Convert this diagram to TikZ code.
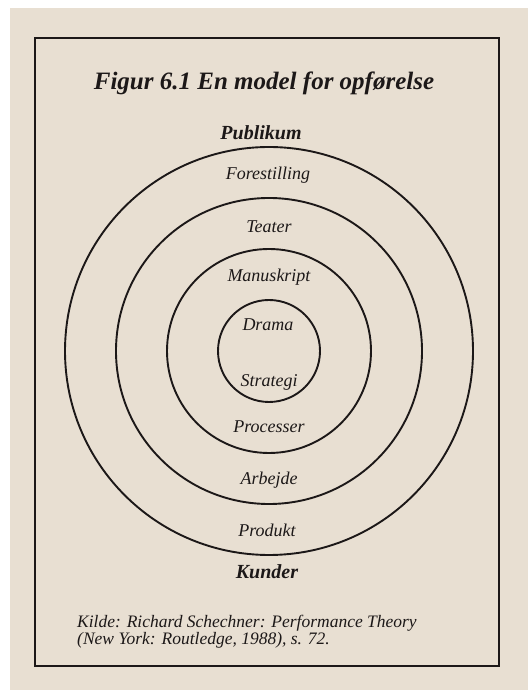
\documentclass[tikz,border=0pt]{standalone}
\usepackage{fontspec}
\setmainfont{Liberation Serif}
\definecolor{paper}{RGB}{232,223,210}
\definecolor{ink}{RGB}{28,24,24}
\begin{document}
\begin{tikzpicture}[x=1pt,y=1pt,
  ring/.style={draw=ink,line width=1.9pt},
  lbl/.style={text=ink,font=\fontsize{18}{20}\selectfont\itshape,inner sep=0pt},
  lblb/.style={text=ink,font=\fontsize{20}{22}\selectfont\bfseries\itshape,inner sep=0pt}]
\useasboundingbox (0,0) rectangle (528,691);
\fill[white] (0,0) rectangle (528,691);
\fill[paper] (10,1) rectangle (528,683);
\draw[draw=ink,line width=1.7pt] (35,653) rectangle (499,25);
\coordinate (c) at (269,340);
\foreach \r in {51,102,153,204} \draw[ring] (c) circle (\r);
\node[text=ink,font=\fontsize{25}{27}\selectfont\bfseries\itshape,inner sep=0pt] (title) at (264,608) {Figur 6.1 En model for opførelse};
\node[lblb] (publikum) at (261,558) {Publikum};
\node[lbl] (forestilling) at (268,516) {Forestilling};
\node[lbl] (teater) at (269,464) {Teater};
\node[lbl] (manuskript) at (269,414) {Manuskript};
\node[lbl] (drama) at (268,366) {Drama};
\node[lbl] (strategi) at (269,309) {Strategi};
\node[lbl] (processer) at (269,264) {Processer};
\node[lbl] (arbejde) at (269,211) {Arbejde};
\node[lbl] (produkt) at (267,161) {Produkt};
\node[lblb] (kunder) at (267,119) {Kunder};
\node[text=ink,font=\fontsize{17.5}{15}\selectfont\itshape,inner sep=0pt,align=left,anchor=north west] (kilde) at (77,76) {Kilde: Richard Schechner: Performance Theory\\(New York: Routledge, 1988), s. 72.};
\end{tikzpicture}
\end{document}
